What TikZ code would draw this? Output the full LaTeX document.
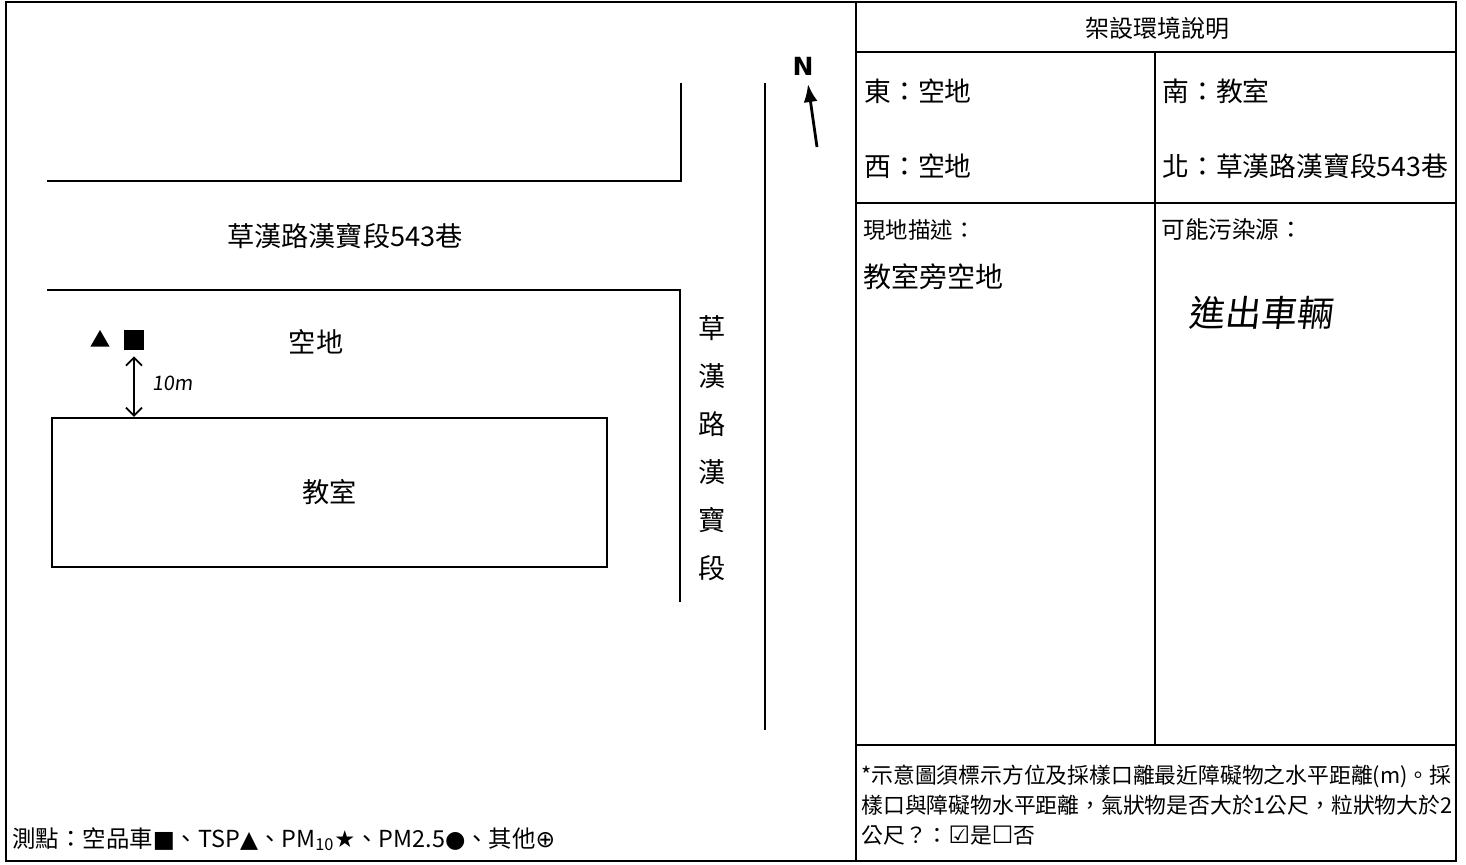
\documentclass[tikz,border=0pt]{standalone}
\usepackage{fontspec}
\setmainfont{Noto Sans CJK TC}
\newfontfamily\symfont{DejaVu Sans}
\newfontfamily\handfont[FakeSlant=0.12]{Noto Sans CJK TC}
\usetikzlibrary{arrows.meta, shapes.geometric}
\tikzset{
  frame_line/.style = {line width=1.3pt},
  road_line/.style = {line width=1.1pt},
  cjklabel/.style = {inner sep=0pt, font=\fontsize{13.6}{16}\selectfont},
  celltext/.style = {cjklabel, anchor=west, font=\fontsize{13.4}{15}\selectfont},
  smalltext/.style = {cjklabel, anchor=west, align=left, font=\fontsize{10.9}{15}\selectfont},
  handtext/.style = {cjklabel, font=\fontsize{18}{20}\selectfont\handfont}
}

\begin{document}
\begin{tikzpicture}[x=0.5pt, y=-0.5pt]
  \useasboundingbox (0,0) rectangle (1466,864);
  % frame and table
  \draw[frame_line] (6,2) rectangle (1456,861);
  \draw[frame_line] (856,2) -- (856,861);
  \draw[frame_line] (856,52) -- (1456,52);
  \draw[frame_line] (856,203) -- (1456,203);
  \draw[frame_line] (856,745) -- (1456,745);
  \draw[frame_line] (1155,52) -- (1155,745);

  % roads
  \draw[road_line] (47,181) -- (681,181) -- (681,83);
  \draw[road_line] (47,290) -- (680,290) -- (680,602);
  \draw[road_line] (765,83) -- (765,730);
  \node[cjklabel] (lane) at (345,236) {草漢路漢寶段543巷};
  \foreach \ch [count=\i] in {草,漢,路,漢,寶,段}
    \node[cjklabel] (road\i) at (712,280+48*\i) {\ch};

  % north arrow
  \node[inner sep=0pt, font=\fontsize{12.5}{14}\selectfont\bfseries\symfont] (north) at (803,66) {N};
  \coordinate (ntail) at (817,147);
  \coordinate (ntip) at (808,84);
  \draw[line width=1.4pt, -{Latex[length=9pt,width=7pt]}] (ntail) -- (ntip);

  % site
  \node[cjklabel] (empty) at (316,342) {空地};
  \node[draw, road_line, minimum width=277.5pt, minimum height=74.5pt, inner sep=0pt] (room) at (329.5,492.5) {};
  \node[cjklabel] at (room.center) {教室};
  \node[fill=black, minimum size=10pt, inner sep=0pt] (car) at (134,340) {};
  \node[fill=black, regular polygon, regular polygon sides=3, minimum size=11pt, inner sep=0pt] (tsp) at (100,341) {};
  \draw[line width=0.9pt, {Straight Barb[length=4pt]}-{Straight Barb[length=4pt]}] ([yshift=-3pt]car.south) -- (car.south |- room.north);
  \node[handtext, font=\fontsize{10}{12}\selectfont\handfont, anchor=west] (dist) at (152,383) {10m};

  % legend
  \node[cjklabel, anchor=west, font=\fontsize{11.7}{13}\selectfont] (legend) at (12,839)
    {測點：空品車{\symfont ■}、TSP{\symfont ▲}、PM\textsubscript{10}{\symfont ★}、PM2.5{\symfont ●}、其他{\symfont ⊕}};

  % table text
  \node[cjklabel, font=\fontsize{12}{14}\selectfont] (title) at (1157,28) {架設環境說明};
  \node[celltext] (east) at (864,91) {東：空地};
  \node[celltext] (west) at (864,166) {西：空地};
  \node[celltext] (south) at (1162,91) {南：教室};
  \node[celltext] (northside) at (1162,166) {北：草漢路漢寶段543巷};
  \node[celltext, font=\fontsize{11.2}{13}\selectfont] (desc) at (863,230) {現地描述：};
  \node[celltext, font=\fontsize{14}{16}\selectfont] (descval) at (863,277) {教室旁空地};
  \node[celltext, font=\fontsize{11.8}{13}\selectfont] (source) at (1161,230) {可能污染源：};
  \node[handtext] (sourceval) at (1260,313) {進出車輛};
  \node[smalltext] (note) at (861,805)
    {*示意圖須標示方位及採樣口離最近障礙物之水平距離(m)。採\\
     樣口與障礙物水平距離，氣狀物是否大於1公尺，粒狀物大於2\\
     公尺？：{\symfont\large ☑}是{\symfont\large ☐}否};
\end{tikzpicture}
\end{document}
